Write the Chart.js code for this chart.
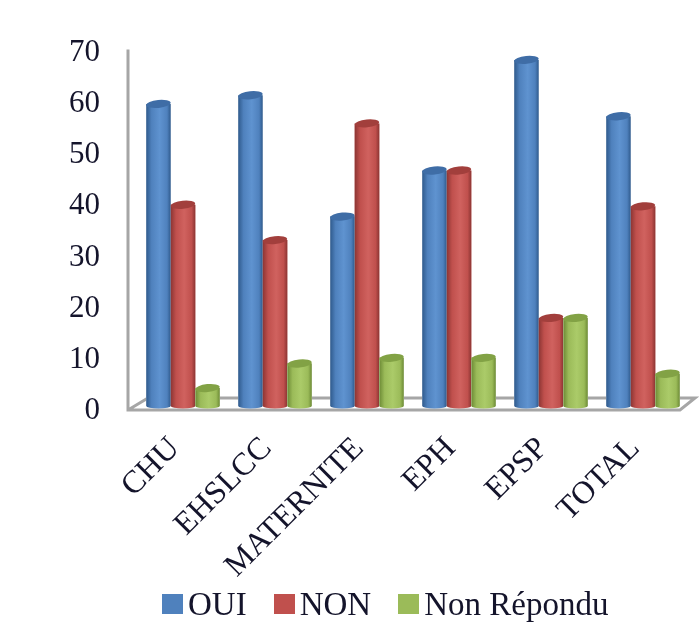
<!DOCTYPE html>
<html>
<head>
<meta charset="utf-8">
<script src="https://cdn.jsdelivr.net/npm/chart.js@4"></script>
<style>
html, body { margin: 0; padding: 0; background: #fff; }
#wrap { position: relative; width: 699px; height: 639px; filter: blur(0.5px); }
#legend { position: absolute; left: 162px; top: 583px; height: 36px; line-height: 36px; white-space: nowrap;
    font-family: "Liberation Serif", serif; font-size: 33px; color: #14142b; }
#legend span { display: inline-block; vertical-align: middle; }
#legend .box { width: 21px; height: 20px; margin-right: 5px; }
#legend .txt { margin-right: 27px; }
</style>
</head>
<body>
<div id="wrap"><canvas id="c"></canvas><div id="legend"></div></div>
<script>
var categories = ['CHU', 'EHSLCC', 'MATERNITE', 'EPH', 'EPSP', 'TOTAL'];
var oui = [59, 60.7, 37, 46, 67.6, 56.6];
var non = [39.3, 32.4, 55.2, 46, 17.2, 39];
var nonRepondu = [3.5, 8.3, 9.4, 9.4, 17.2, 6.3];
var yTicks = [0, 10, 20, 30, 40, 50, 60, 70];

var serif = '"Liberation Serif", serif';
var textColor = '#14142b';
var axisGrey = '#a6a6a6';

// cylinder shades for each series: dark edge, body, highlight, cap
var shades = [
    ['#2f5a8c', '#4f81bd', '#5f93d0', '#3f6da6'],
    ['#8c3533', '#c0504d', '#d0625f', '#a23f3c'],
    ['#6c8a35', '#9bbb59', '#abcb69', '#82a245']
];

// floor and axis lines, drawn behind the bars
var floorPlugin = {
    id: 'floor',
    beforeDatasetsDraw: function (chart) {
        var c = chart.ctx, y0 = chart.scales.y.getPixelForValue(0), top = chart.scales.y.top;
        var left = chart.chartArea.left, right = chart.chartArea.right;
        c.save();
        c.lineWidth = 3;
        c.strokeStyle = axisGrey;
        c.beginPath();
        c.moveTo(left - 9, top + 2);
        c.lineTo(left - 9, y0 + 4);
        c.lineTo(right - 9, y0 + 4);
        c.lineTo(right + 6, y0 - 8);
        c.lineTo(left + 11, y0 - 8);
        c.lineTo(left - 9, y0 + 4);
        c.stroke();
        c.restore();
    }
};

// repaints every bar as a cylinder, using the positions the scales gave it
var cylinderPlugin = {
    id: 'cylinder',
    afterDatasetsDraw: function (chart) {
        var c = chart.ctx;
        chart.data.datasets.forEach(function (ds, i) {
            var s = shades[i];
            chart.getDatasetMeta(i).data.forEach(function (bar) {
                var p = bar.getProps(['x', 'y', 'base', 'width']);
                var l = p.x - p.width / 2, r = p.x + p.width / 2, rx = p.width / 2;
                var g = c.createLinearGradient(l, 0, r, 0);
                g.addColorStop(0, s[0]);
                g.addColorStop(0.22, s[1]);
                g.addColorStop(0.55, s[2]);
                g.addColorStop(0.85, s[1]);
                g.addColorStop(1, s[0]);
                c.save();
                c.clearRect(l, p.y, p.width, p.base - p.y);
                c.fillStyle = g;
                c.beginPath();
                c.moveTo(l, p.y);
                c.lineTo(l, p.base);
                c.ellipse(p.x, p.base, rx, 2.5, 0, Math.PI, 0, true);
                c.lineTo(r, p.y);
                c.closePath();
                c.fill();
                // cap, tilted like the 3D original
                c.fillStyle = s[3];
                c.beginPath();
                c.ellipse(p.x, p.y, rx, 4, -0.1, 0, Math.PI * 2);
                c.fill();
                c.restore();
            });
        });
    }
};

var chart = new Chart(document.getElementById('c'), {
    type: 'bar',
    data: {
        labels: categories,
        datasets: [
            { label: 'OUI', data: oui, backgroundColor: '#4f81bd' },
            { label: 'NON', data: non, backgroundColor: '#c0504d' },
            { label: 'Non Répondu', data: nonRepondu, backgroundColor: '#9bbb59' }
        ]
    },
    options: {
        responsive: true,
        maintainAspectRatio: false,
        animation: false,
        categoryPercentage: 0.8,
        barPercentage: 1,
        layout: { padding: { left: 60, right: 10, top: 42, bottom: 44 } },
        plugins: {
            tooltip: { enabled: false },
            legend: { display: false }
        },
        scales: {
            x: {
                grid: { display: false },
                border: { display: false },
                ticks: {
                    color: textColor,
                    font: { family: serif, size: 32 },
                    minRotation: 45,
                    maxRotation: 45,
                    autoSkip: false,
                    padding: 16,
                    labelOffset: -8
                },
                afterFit: function (scale) { scale.height = 189; }
            },
            y: {
                min: 0,
                max: 70,
                grid: { display: false },
                border: { display: false },
                afterBuildTicks: function (scale) {
                    scale.ticks = yTicks.map(function (v) { return { value: v }; });
                },
                ticks: {
                    color: textColor,
                    font: { family: serif, size: 31 },
                    padding: 29,
                    labelOffset: 5
                },
                afterFit: function (scale) { scale.width = 77; }
            }
        }
    },
    plugins: [floorPlugin, cylinderPlugin]
});

// legend built from the datasets
var legendEl = document.getElementById('legend');
chart.data.datasets.forEach(function (ds) {
    var box = document.createElement('span');
    box.className = 'box';
    box.style.background = ds.backgroundColor;
    var txt = document.createElement('span');
    txt.className = 'txt';
    txt.textContent = ds.label;
    legendEl.appendChild(box);
    legendEl.appendChild(txt);
});
</script>
</body>
</html>
